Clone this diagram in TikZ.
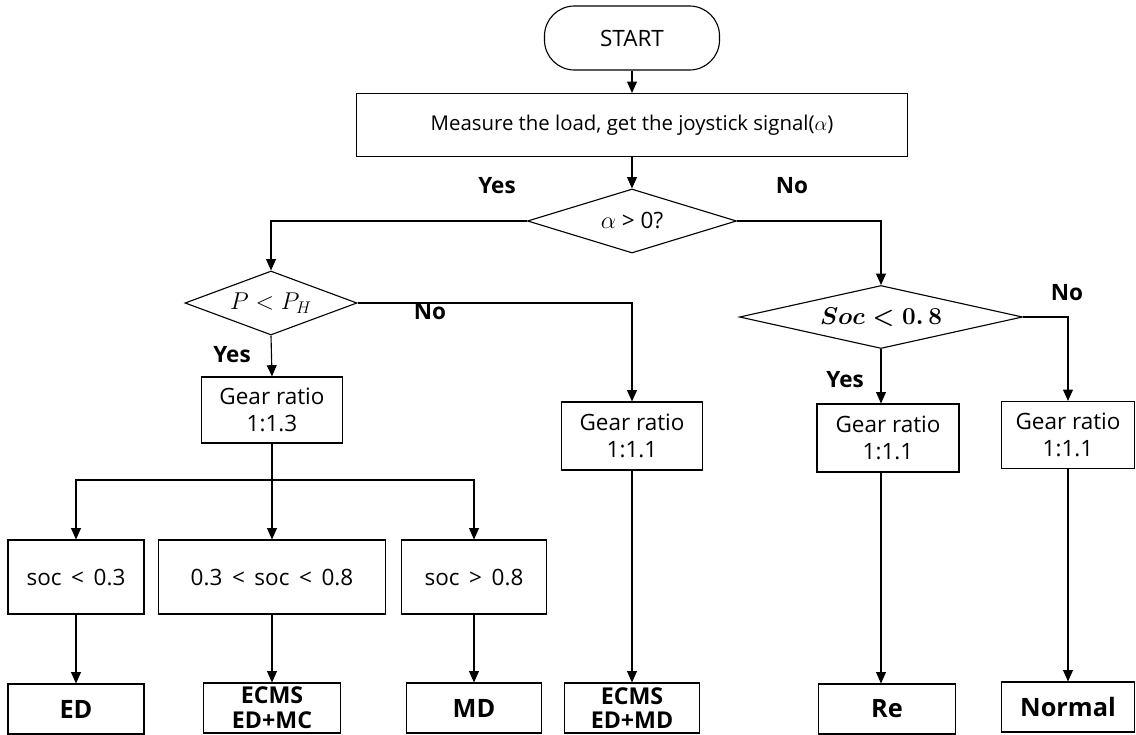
\documentclass[tikz,border=0pt]{standalone}
\usepackage{fontspec}
\setmainfont{Open Sans}
\usetikzlibrary{shapes,arrows.meta,positioning,calc}

\begin{document}
\begin{tikzpicture}[
    x=0.025cm, y=-0.025cm,
    termbox/.style={rectangle, draw, rounded corners=0.75cm, minimum width=4.375cm, minimum height=1.6cm, font=\fontsize{16}{19}\selectfont},
    procbox/.style={rectangle, draw, line width=0.8pt, minimum width=#1, align=center, inner sep=1pt, font=\fontsize{16}{19}\selectfont},
    decbox/.style={diamond, draw, line width=0.8pt, aspect=3, inner sep=0pt, minimum width=#1, font=\fontsize{16}{19}\selectfont},
    resbox/.style={rectangle, draw, line width=0.8pt, minimum width=3.4cm, minimum height=1.25cm, align=center, inner sep=1pt, font=\fontsize{18}{20}\selectfont\bfseries},
    twoline/.style={font=\fontsize{16.5}{17.5}\selectfont\bfseries},
    yn/.style={font=\fontsize{16}{19}\selectfont\bfseries},
    arr/.style={-{Triangle[length=8pt,width=7pt]}, line width=0.8pt}
]
\useasboundingbox (0,0) rectangle (1136,735);

% Top
\node[termbox, line width=0.8pt] (start) at (632,38) {START};
\node[procbox=13.75cm, minimum height=1.575cm, font=\fontsize{14.5}{17}\selectfont] (measure) at (632,125) {Measure the load, get the joystick signal($\alpha$)};

% Decisions
\node[decbox=5.225cm, minimum height=1.6cm] (d1) at (632,221) {$\alpha$ > 0?};
\node[decbox=4.3cm, minimum height=1.6cm, font=\fontsize{17}{20}\selectfont] (d2) at (271,303) {$P < P_H$};
\node[decbox=7.075cm, minimum height=1.575cm, font=\fontsize{17}{20}\selectfont\boldmath] (d3) at (881,317) {$Soc < 0.\,8$};

% Gear ratios
\node[procbox=3.525cm, minimum height=1.65cm] (g1) at (272,410) {Gear ratio\\1:1.3};
\node[procbox=3.525cm, minimum height=1.7cm] (g2) at (632,436) {Gear ratio\\1:1.1};
\node[procbox=3.55cm, minimum height=1.7cm] (g3) at (888,438) {Gear ratio\\1:1.1};
\node[procbox=3.325cm, minimum height=1.675cm] (g4) at (1068,435) {Gear ratio\\1:1.1};

% SOC ranges
\node[procbox=3.4cm, minimum height=1.85cm] (s1) at (76,577) {soc \,<\, 0.3};
\node[procbox=5.675cm, minimum height=1.85cm] (s2) at (272,577) {0.3 \,<\, soc \,<\, 0.8};
\node[procbox=3.625cm, minimum height=1.85cm] (s3) at (474,577) {soc \,>\, 0.8};

% Modes
\node[resbox] (r1) at (76,709) {ED};
\node[resbox, twoline, minimum width=3.425cm] (r2) at (272,708) {ECMS\\ED+MC};
\node[resbox, minimum width=3.375cm] (r3) at (474,708) {MD};
\node[resbox, twoline, minimum width=3.375cm] (r4) at (632,708) {ECMS\\ED+MD};
\node[resbox, minimum width=3.425cm] (r5) at (887,709) {Re};
\node[resbox, minimum width=3.325cm] (r6) at (1068,707) {Normal};

% Arrows
\draw[arr] (start) -- (measure);
\draw[arr] (measure) -- (d1);
\draw[arr] (d1.west) -| (d2.north);
\draw[arr] (d1.east) -| (d3.north);
\draw[arr] (d2.south) -- (g1.north);
\draw[arr] (d2.east) -| (g2.north);
\draw[arr] (d3.south) -- (d3.south |- g3.north);
\draw[arr] (d3.east) -| (g4.north);

\coordinate (br) at (272,480);
\draw[line width=0.8pt] (g1.south) -- (br);
\draw[arr] (br) -| (s1.north);
\draw[arr] (br) -- (s2.north);
\draw[arr] (br) -| (s3.north);

\draw[arr] (s1) -- (r1);
\draw[arr] (s2) -- (r2);
\draw[arr] (s3) -- (r3);
\draw[arr] (g2) -- (r4);
\draw[arr] (g3.south -| d3.south) -- (r5.north -| d3.south);
\draw[arr] (g4) -- (r6);

% Labels
\node[yn] (y1) at (497,186) {Yes};
\node[yn] (n1) at (792,186) {No};
\node[yn] (y2) at (232,355) {Yes};
\node[yn] (n2) at (430,312) {No};
\node[yn] (y3) at (845,380) {Yes};
\node[yn] (n3) at (1067,293) {No};
\end{tikzpicture}
\end{document}
